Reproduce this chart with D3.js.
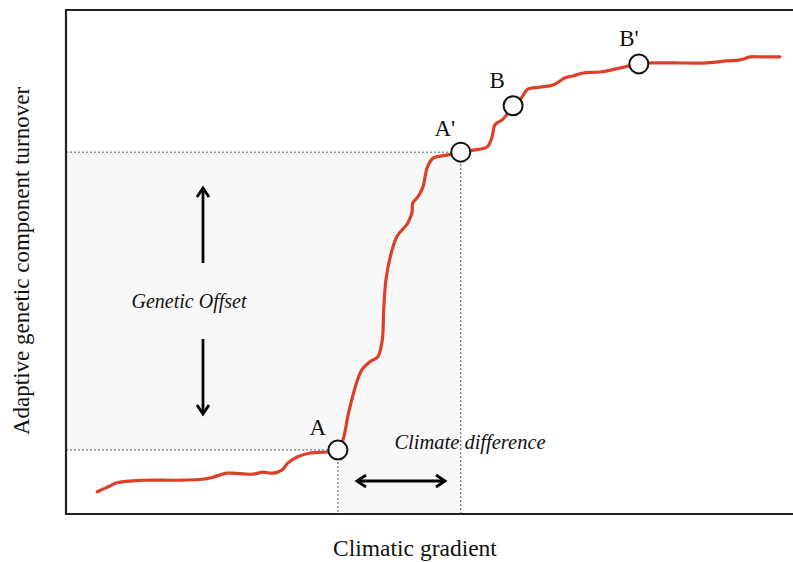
<!DOCTYPE html>
<html><head><meta charset="utf-8">
<script src="https://cdn.jsdelivr.net/npm/d3@7/dist/d3.min.js"></script>
<style>html,body{margin:0;padding:0;background:#fff;}svg{display:block;}</style>
</head><body>
<svg id="chart" width="793" height="562"></svg>
<script>
// Curve: climatic gradient (x) vs adaptive genetic turnover (y)
const gradient = [0.43,0.58,0.70,1.06,1.53,1.88,2.02,2.21,2.30,2.57,2.71,2.85,2.97,3.05,3.18,3.36,3.59,3.74,
  3.81,3.88,3.93,4.00,4.07,4.18,4.29,4.35,4.37,4.40,4.46,4.55,4.70,4.76,4.77,4.84,4.91,4.97,5.05,5.24,5.43,
  5.60,5.79,5.86,5.90,6.00,6.04,6.15,6.24,6.29,6.35,6.52,6.70,6.86,6.97,7.11,7.35,7.62,7.88,
  8.07,8.35,8.82,9.09,9.27,9.41,9.55,9.82];
const turnover = [0.044,0.054,0.062,0.067,0.067,0.069,0.073,0.081,0.081,0.079,0.083,0.081,0.087,0.101,0.113,0.121,0.123,0.127,
  0.147,0.196,0.226,0.262,0.286,0.302,0.312,0.345,0.405,0.464,0.510,0.550,0.577,0.599,0.617,0.629,0.649,0.688,0.706,0.712,0.718,
  0.722,0.728,0.748,0.772,0.782,0.788,0.810,0.821,0.831,0.843,0.847,0.851,0.865,0.869,0.875,0.877,0.885,0.893,
  0.895,0.895,0.895,0.899,0.901,0.907,0.907,0.907];
const pointLabels = ["A","A'","B","B'"];
const pointX = [3.74,5.43,6.15,7.88];
const pointY = [0.127,0.718,0.810,0.893];

const svg = d3.select("#chart");
const x = d3.scaleLinear().domain([0,10]).range([66,793]);
const y = d3.scaleLinear().domain([0,1]).range([514,10]);

const A = {x:pointX[0], y:pointY[0]}, A2 = {x:pointX[1], y:pointY[1]};

// shaded L-region
svg.append("path")
  .attr("d", `M${x(0)},${y(A2.y)} L${x(A2.x)},${y(A2.y)} L${x(A2.x)},${y(0)} L${x(A.x)},${y(0)} L${x(A.x)},${y(A.y)} L${x(0)},${y(A.y)} Z`)
  .attr("fill","#f8f8f8");

// dotted guides
const dot = [[0,A2.y,A2.x,A2.y],[0,A.y,A.x,A.y],[A.x,A.y,A.x,0],[A2.x,A2.y,A2.x,0]];
svg.selectAll("line.guide").data(dot).enter().append("line").attr("class","guide")
  .attr("x1",d=>x(d[0])).attr("y1",d=>y(d[1])).attr("x2",d=>x(d[2])).attr("y2",d=>y(d[3]))
  .attr("stroke","#555").attr("stroke-width",1).attr("stroke-dasharray","2,2");

// frame
svg.append("path").attr("d",`M793,${y(1)} L${x(0)},${y(1)} L${x(0)},${y(0)} L793,${y(0)}`)
  .attr("fill","none").attr("stroke","#222").attr("stroke-width",2.2);

// curve
const line = d3.line().x((d,i)=>x(gradient[i])).y((d,i)=>y(turnover[i])).curve(d3.curveCatmullRom.alpha(0.5));
svg.append("path").datum(gradient).attr("d",line).attr("fill","none")
  .attr("stroke","#dc4028").attr("stroke-width",3.2).attr("stroke-linecap","round").attr("stroke-linejoin","round");

// points
svg.selectAll("circle.pt").data(pointX).enter().append("circle").attr("class","pt")
  .attr("cx",d=>x(d)).attr("cy",(d,i)=>y(pointY[i])).attr("r",9.5)
  .attr("fill","#fafafa").attr("stroke","#111").attr("stroke-width",2);

const serif = "Liberation Serif, 'Times New Roman', serif";
const labOff = [[-20,-15],[-16,-16],[-16,-18],[-10,-18]];
svg.selectAll("text.pl").data(pointLabels).enter().append("text").attr("class","pl")
  .attr("x",(d,i)=>x(pointX[i])+labOff[i][0]).attr("y",(d,i)=>y(pointY[i])+labOff[i][1])
  .attr("text-anchor","middle").attr("font-family",serif).attr("font-size",23).attr("fill","#111")
  .text(d=>d);

// arrows
function arrowHead(px,py,dx,dy){
  const s=9, w=6;
  const bx=px-dx*s, by=py-dy*s, nx=-dy, ny=dx;
  svg.append("path").attr("d",`M${bx+nx*w},${by+ny*w} L${px},${py} L${bx-nx*w},${by-ny*w}`)
    .attr("fill","none").attr("stroke","#000").attr("stroke-width",2.8).attr("stroke-linejoin","miter");
}
function arrowLine(x1,y1,x2,y2){
  svg.append("line").attr("x1",x1).attr("y1",y1).attr("x2",x2).attr("y2",y2)
    .attr("stroke","#000").attr("stroke-width",2.8);
}
arrowLine(203,263,203,189); arrowHead(203,188,0,-1);
arrowLine(203,339,203,413); arrowHead(203,414,0,1);
arrowLine(358,481,444,481); arrowHead(357,481,-1,0); arrowHead(445,481,1,0);

svg.append("text").attr("x",189).attr("y",308).attr("text-anchor","middle").attr("font-family",serif)
  .attr("font-style","italic").attr("font-size",20).attr("fill","#111").text("Genetic Offset");
svg.append("text").attr("x",470).attr("y",449).attr("text-anchor","middle").attr("font-family",serif)
  .attr("font-style","italic").attr("font-size",20.5).attr("fill","#111").text("Climate difference");

svg.append("text").attr("x",415).attr("y",556).attr("text-anchor","middle").attr("font-family",serif)
  .attr("font-size",23.5).attr("fill","#111").text("Climatic gradient");
svg.append("text").attr("transform","translate(29,261) rotate(-90)").attr("text-anchor","middle")
  .attr("font-family",serif).attr("font-size",23).attr("fill","#111").text("Adaptive genetic component turnover");
</script>
</body></html>
